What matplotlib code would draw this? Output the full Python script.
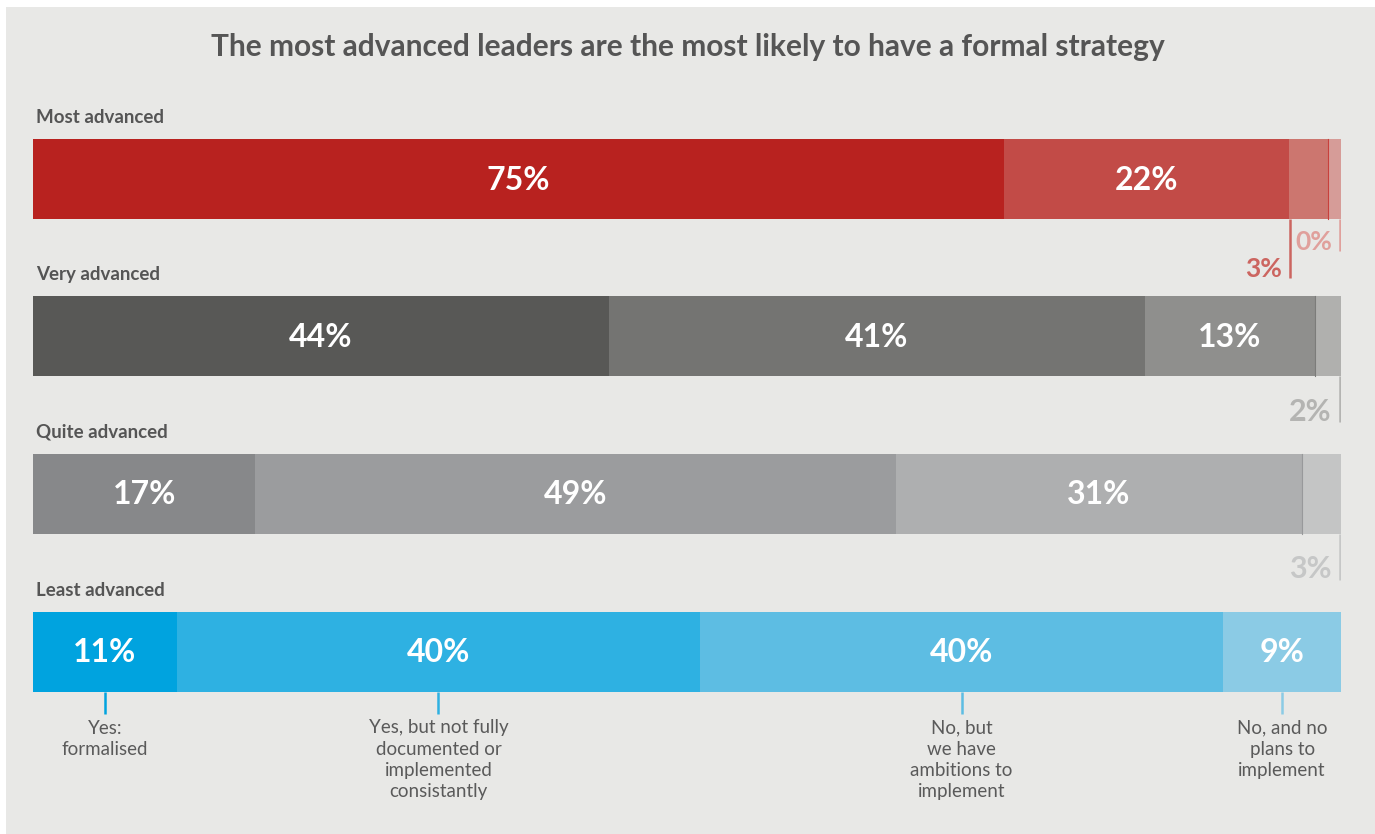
import numpy as np
import matplotlib.pyplot as plt
from matplotlib.patches import Rectangle

plt.rcParams['font.family'] = ['Lato', 'DejaVu Sans']

title = "The most advanced leaders are the most likely to have a formal strategy"
groups = ["Most advanced", "Very advanced", "Quite advanced", "Least advanced"]
answers = ["Yes:\nformalised",
           "Yes, but not fully\ndocumented or\nimplemented\nconsistantly",
           "No, but\nwe have\nambitions to\nimplement",
           "No, and no\nplans to\nimplement"]

most_adv = [75, 22, 3, 0]
very_adv = [44, 41, 13, 2]
quite_adv = [17, 49, 31, 3]
least_adv = [11, 40, 40, 9]
values = [most_adv, very_adv, quite_adv, least_adv]

colors = [["#b8221f", "#c24b47", "#cc766f", "#d69c98"],
          ["#585856", "#747472", "#8f8f8d", "#b0b0ae"],
          ["#87888a", "#9b9c9e", "#aeafb0", "#c4c5c5"],
          ["#00a3df", "#2eb1e2", "#5dbde3", "#8bcbe5"]]
# colour used for the small outside labels / leader lines
small_col = [["#b8221f", "#c24b47", "#cc6560", "#e0a09c"],
             [None, None, None, "#b4b4b2"],
             [None, None, None, "#c6c7c7"]]
sep_col = ["#c8403c", "#7c7c7a", "#98999b"]

bg = "#e8e8e6"
text_col = "#555555"

W, H = 1375, 834
fig = plt.figure(figsize=(W / 100, H / 100), dpi=100)
fig.patch.set_facecolor("white")
fig.patches.append(Rectangle((6 / W, 0), 1, 1 - 7 / H, transform=fig.transFigure,
                             facecolor=bg, edgecolor="none", zorder=-10))

# x in percent across the bar width, y in pixels from the top
ax = fig.add_axes([33 / W, 0, 1308 / W, 1])
ax.set_xlim(0, 100)
ax.set_ylim(H, 0)
ax.axis("off")
ax.set_facecolor("none")

fig.text(0.5, 1 - 47 / H, title, ha="center", va="center", fontsize=21.5,
         fontweight="bold", color=text_col)

bar_y = [179, 336, 493.5, 651.5]
bar_h = 80

for i, (vals, g) in enumerate(zip(values, groups)):
    v = np.array(vals, dtype=float)
    # zero shares still get a thin sliver so they can be pointed at
    w = np.maximum(v, 1)
    w = w * 100 / w.sum()
    left = np.concatenate([[0], np.cumsum(w)[:-1]])
    y = bar_y[i]
    ax.barh(y, w, left=left, height=bar_h, color=colors[i], edgecolor="none")
    ax.text(0.25, y - bar_h / 2 - 16, g, ha="left", va="baseline", fontsize=13.5,
            fontweight="bold", color=text_col)
    for j in range(len(v)):
        cx = left[j] + w[j] / 2
        if v[j] >= 5:
            ax.text(cx, y + 1, f"{vals[j]}%", ha="center", va="center",
                    fontsize=23, fontweight="bold", color="white")
    if i < 3:
        ax.plot([left[-1], left[-1]], [y - bar_h / 2, y + bar_h / 2],
                color=sep_col[i], lw=0.8)

    bottom = y + bar_h / 2
    if i == 0:
        # 3% points from its left edge, 0% from the right end
        x3 = left[2] + 0.05
        ax.plot([x3, x3], [bottom, bottom + 59], color=small_col[0][2], lw=1.8,
                solid_capstyle="butt")
        ax.text(x3 - 0.6, bottom + 58, f"{vals[2]}%", ha="right", va="baseline",
                fontsize=19, fontweight="bold", color=small_col[0][2])
        x0 = 99.9
        ax.plot([x0, x0], [bottom, bottom + 32], color=small_col[0][3], lw=1.8,
                solid_capstyle="butt")
        ax.text(x0 - 0.6, bottom + 31, f"{vals[3]}%", ha="right", va="baseline",
                fontsize=19, fontweight="bold", color=small_col[0][3])
    elif i < 3:
        x0 = 99.9
        c = small_col[i][3]
        ax.plot([x0, x0], [bottom, bottom + 46], color=c, lw=1.8,
                solid_capstyle="butt")
        ax.text(x0 - 0.6, bottom + 45, f"{vals[3]}%", ha="right", va="baseline",
                fontsize=22, fontweight="bold", color=c)
    else:
        for j in range(len(v)):
            cx = left[j] + w[j] / 2
            ax.plot([cx, cx], [bottom, bottom + 22], color=colors[i][j], lw=1.8,
                    solid_capstyle="butt")
            ax.text(cx, bottom + 28, answers[j], ha="center", va="top",
                    fontsize=13.5, fontweight="normal", color="#5a5a5a",
                    linespacing=1.3)

fig.savefig("out.png", dpi=100, facecolor=fig.get_facecolor())
